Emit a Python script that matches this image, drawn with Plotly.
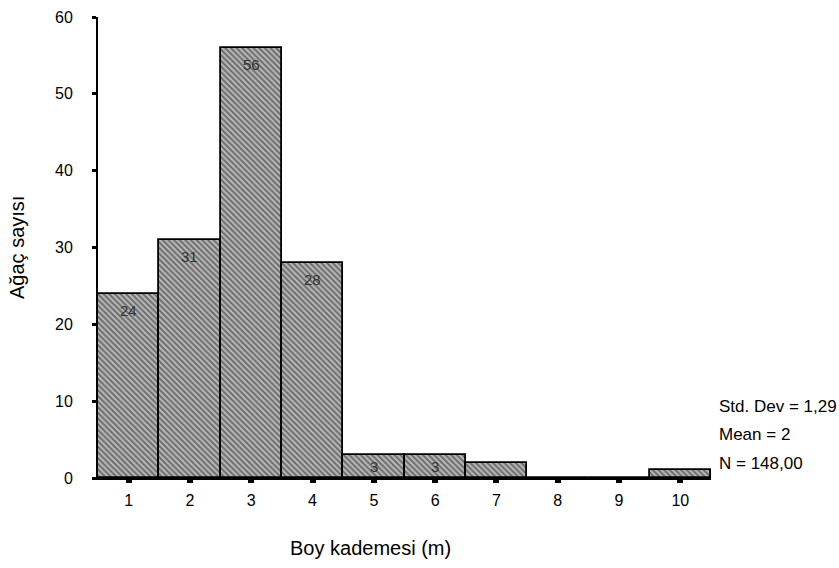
import plotly.graph_objects as go

categories = [1, 2, 3, 4, 5, 6, 7, 8, 9, 10]
counts = [24, 31, 56, 28, 3, 3, 2, 0, 0, 1]
bar_labels = ["24", "31", "56", "28", "3", "3", "", "", "", ""]
y_ticks = [0, 10, 20, 30, 40, 50, 60]
stats_lines = ["Std. Dev = 1,29", "Mean = 2", "N = 148,00"]
x_title = "Boy kademesi (m)"
y_title = "Ağaç sayısı"

FONT = "Liberation Sans, Arial, sans-serif"

# plot area in pixels
L, R, T, B = 98, 711, 9, 478
W, H = 839, 568
PW, PH = R - L, B - T

def px_x(px):
    return (px - L) / PW

def px_y(py):
    return (B - py) / PH

fig = go.Figure()
fig.add_trace(go.Bar(
    x=categories, y=counts, width=1,
    marker=dict(
        color="#909090",
        line=dict(color="black", width=1.8),
        pattern=dict(shape="\\", fgcolor="#1e1e1e", bgcolor="#bababa", size=4, solidity=0.5),
    ),
    hoverinfo="x+y",
    showlegend=False,
))

fig.update_layout(
    width=W, height=H,
    margin=dict(l=L, r=W - R, t=T, b=H - B),
    plot_bgcolor="white", paper_bgcolor="white",
    font=dict(family=FONT, size=16, color="black"),
    bargap=0,
    xaxis=dict(
        range=[0.5, 10.5], tickvals=categories, ticktext=[str(c) for c in categories],
        showgrid=False, zeroline=False, showline=True, linecolor="black", linewidth=2,
        ticks="outside", ticklen=3, tickwidth=6, tickcolor="black",
        tickfont=dict(family=FONT, size=16),
        ticklabelstandoff=4,
    ),
    yaxis=dict(
        range=[0, 60], tickvals=y_ticks,
        showgrid=False, zeroline=False, showline=True, linecolor="black", linewidth=2,
        ticks="outside", ticklen=4, tickwidth=3, tickcolor="black",
        tickfont=dict(family=FONT, size=16),
        ticklabelstandoff=16,
    ),
)

# value labels inside bars, near the top
for c, v, lab in zip(categories, counts, bar_labels):
    if not lab:
        continue
    fig.add_annotation(
        x=c, y=v, xref="x", yref="y", text=lab, showarrow=False,
        yshift=-17 if v > 5 else -12, xanchor="center", yanchor="middle",
        font=dict(family=FONT, size=15, color="#333333"),
    )

# axis titles
fig.add_annotation(
    x=px_x(370), xref="paper", y=px_y(549), yref="paper",
    text=x_title, showarrow=False, xanchor="center", yanchor="middle",
    font=dict(family=FONT, size=20),
)
fig.add_annotation(
    x=px_x(17), xref="paper", y=px_y(244), yref="paper",
    text=y_title, showarrow=False, xanchor="center", yanchor="middle",
    textangle=-90, font=dict(family=FONT, size=20),
)

# statistics block
stat_y = [405, 434, 463]
for line, py in zip(stats_lines, stat_y):
    fig.add_annotation(
        x=px_x(717), xref="paper", y=px_y(py), yref="paper",
        text=line, showarrow=False, xanchor="left", yanchor="middle",
        font=dict(family=FONT, size=17),
    )

fig.write_html("out.html")
